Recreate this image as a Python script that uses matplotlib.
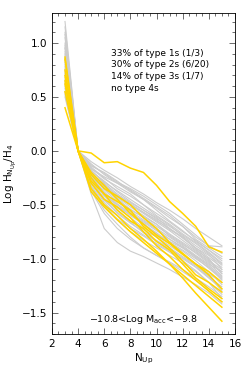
import numpy as np
import matplotlib
matplotlib.use('Agg')
import matplotlib.pyplot as plt
from matplotlib.ticker import MultipleLocator

n_up = [3, 4, 5, 6, 7, 8, 9, 10, 11, 12, 13, 14, 15]

# log(H_N / H_4) for each object, gray = all, yellow = selected
gray_lines = [
    [1.20, 0, -0.10, -0.18, -0.25, -0.33, -0.40, -0.48, -0.55, -0.63, -0.72, -0.80, -0.88],
    [1.15, 0, -0.12, -0.22, -0.30, -0.38, -0.45, -0.53, -0.62, -0.70, -0.80, -0.88, -0.95],
    [1.10, 0, -0.15, -0.25, -0.35, -0.42, -0.50, -0.58, -0.66, -0.75, -0.83, -0.92, -1.00],
    [1.05, 0, -0.18, -0.30, -0.40, -0.48, -0.55, -0.63, -0.70, -0.78, -0.86, -0.95, -1.05],
    [1.00, 0, -0.20, -0.33, -0.43, -0.52, -0.60, -0.68, -0.77, -0.85, -0.93, -1.02, -1.10],
    [0.98, 0, -0.22, -0.36, -0.47, -0.56, -0.64, -0.72, -0.80, -0.88, -0.97, -1.05, -1.12],
    [0.95, 0, -0.25, -0.40, -0.50, -0.60, -0.68, -0.76, -0.85, -0.92, -1.00, -1.08, -1.18],
    [0.92, 0, -0.28, -0.44, -0.55, -0.65, -0.73, -0.80, -0.88, -0.96, -1.05, -1.14, -1.22],
    [0.90, 0, -0.30, -0.48, -0.60, -0.70, -0.78, -0.86, -0.93, -1.00, -1.08, -1.18, -1.28],
    [0.88, 0, -0.35, -0.55, -0.68, -0.80, -0.90, -0.97, -1.03, -1.10, -1.18, -1.26, -1.35],
    [0.86, 0, -0.40, -0.72, -0.85, -0.93, -0.98, -1.04, -1.10, -1.17, -1.24, -1.32, -1.42],
    [0.84, 0, -0.14, -0.20, -0.28, -0.37, -0.45, -0.55, -0.65, -0.74, -0.84, -0.92, -1.02],
    [0.82, 0, -0.16, -0.26, -0.33, -0.40, -0.50, -0.60, -0.68, -0.77, -0.85, -0.94, -1.04],
    [0.80, 0, -0.19, -0.28, -0.38, -0.47, -0.55, -0.62, -0.72, -0.81, -0.90, -0.99, -1.08],
    [0.78, 0, -0.21, -0.31, -0.42, -0.50, -0.58, -0.66, -0.74, -0.83, -0.92, -1.00, -1.14],
    [0.76, 0, -0.23, -0.35, -0.45, -0.54, -0.62, -0.70, -0.78, -0.86, -0.95, -1.04, -1.16],
    [0.74, 0, -0.24, -0.38, -0.49, -0.58, -0.66, -0.74, -0.82, -0.89, -0.98, -1.07, -1.20],
    [0.72, 0, -0.26, -0.42, -0.53, -0.62, -0.71, -0.79, -0.86, -0.93, -1.02, -1.12, -1.24],
    [0.70, 0, -0.27, -0.45, -0.58, -0.67, -0.75, -0.83, -0.90, -0.98, -1.06, -1.16, -1.30],
    [0.68, 0, -0.32, -0.50, -0.64, -0.75, -0.83, -0.90, -0.97, -1.04, -1.12, -1.22, -1.33],
    [0.66, 0, -0.17, -0.24, -0.30, -0.36, -0.44, -0.52, -0.60, -0.70, -0.82, -0.90, -0.98],
    [0.64, 0, -0.13, -0.21, -0.29, -0.35, -0.42, -0.50, -0.58, -0.68, -0.78, -0.88, -0.89],
    [0.62, 0, -0.20, -0.34, -0.44, -0.55, -0.61, -0.68, -0.79, -0.87, -0.94, -1.03, -1.12],
    [0.60, 0, -0.24, -0.39, -0.52, -0.59, -0.67, -0.77, -0.84, -0.90, -0.99, -1.09, -1.19],
    [0.58, 0, -0.29, -0.46, -0.57, -0.66, -0.76, -0.84, -0.91, -0.99, -1.07, -1.17, -1.26],
    [0.55, 0, -0.33, -0.52, -0.63, -0.72, -0.79, -0.87, -0.94, -1.02, -1.11, -1.22, -1.37],
    [0.52, 0, -0.22, -0.34, -0.42, -0.50, -0.57, -0.64, -0.73, -0.80, -0.90, -0.97, -1.06],
    [0.50, 0, -0.26, -0.41, -0.50, -0.58, -0.65, -0.73, -0.82, -0.90, -0.98, -1.06, -1.17],
    [1.08, 0, -0.18, -0.29, -0.37, -0.45, -0.53, -0.61, -0.69, -0.79, -0.88, -0.96, -1.10],
    [0.96, 0, -0.21, -0.32, -0.41, -0.49, -0.57, -0.65, -0.72, -0.80, -0.91, -1.01, -1.14],
    [0.54, 0, -0.37, -0.58, -0.72, -0.82, -0.90, -0.97, -1.04, -1.12, -1.20, -1.30, -1.40],
]

yellow_lines = [
    [0.62, 0, -0.02, -0.11, -0.10, -0.16, -0.20, -0.32, -0.47, -0.58, -0.70, -0.89, -0.94],
    [0.87, 0, -0.22, -0.35, -0.42, -0.50, -0.62, -0.72, -0.85, -0.95, -1.05, -1.15, -1.28],
    [0.85, 0, -0.28, -0.40, -0.47, -0.55, -0.70, -0.80, -0.90, -1.02, -1.15, -1.22, -1.31],
    [0.75, 0, -0.30, -0.45, -0.52, -0.62, -0.75, -0.88, -0.98, -1.10, -1.20, -1.30, -1.40],
    [0.70, 0, -0.35, -0.50, -0.60, -0.72, -0.82, -0.93, -1.05, -1.15, -1.25, -1.35, -1.45],
    [0.65, 0, -0.38, -0.52, -0.64, -0.75, -0.85, -0.95, -1.05, -1.18, -1.32, -1.45, -1.58],
    [0.55, 0, -0.20, -0.32, -0.45, -0.58, -0.68, -0.78, -0.86, -0.96, -1.05, -1.12, -1.22],
    [0.40, 0, -0.25, -0.40, -0.55, -0.65, -0.72, -0.84, -0.92, -1.05, -1.18, -1.28, -1.37],
]

notes = ["33% of type 1s (1/3)", "30% of type 2s (6/20)",
         "14% of type 3s (1/7)", "no type 4s"]
bin_label = r"$-$10.8<Log M$_{\rm acc}$<$-$9.8"

fig = plt.figure(figsize=(2.45, 3.68), dpi=100)
ax = fig.add_axes([0.212, 0.092, 0.747, 0.873])

for g in gray_lines:
    ax.plot(n_up, g, color='#cccccc', lw=0.8, zorder=1)
for yl in yellow_lines:
    ax.plot(n_up, yl, color='#ffd400', lw=1.1, zorder=2)

ax.set_xlim(2, 16)
ax.set_ylim(-1.7, 1.28)
ax.xaxis.set_major_locator(MultipleLocator(2))
ax.xaxis.set_minor_locator(MultipleLocator(0.5))
ax.yaxis.set_major_locator(MultipleLocator(0.5))
ax.yaxis.set_minor_locator(MultipleLocator(0.1))
ax.tick_params(which='both', direction='in', top=True, right=True,
               labelsize=7.5, width=0.6, color='#555555')
ax.tick_params(which='major', length=4)
ax.tick_params(which='minor', length=2)
ax.yaxis.set_major_formatter(plt.FuncFormatter(
    lambda v, p: ("%.1f" % v).replace('-', '\u2212')))
for s in ax.spines.values():
    s.set_linewidth(0.6)

ax.set_xlabel(r"N$_{\rm Up}$", fontsize=7.5, labelpad=2)
ax.set_ylabel(r"Log H$_{\rm N_{Up}}$/H$_4$", fontsize=7.5, labelpad=2)

for i, t in enumerate(notes):
    ax.text(0.32, 0.875 - i * 0.037, t, transform=ax.transAxes,
            fontsize=6.5, va='center', ha='left')
ax.text(0.5, 0.045, bin_label, transform=ax.transAxes,
        fontsize=6.8, ha='center', va='center')

fig.savefig('out.png', dpi=100)
